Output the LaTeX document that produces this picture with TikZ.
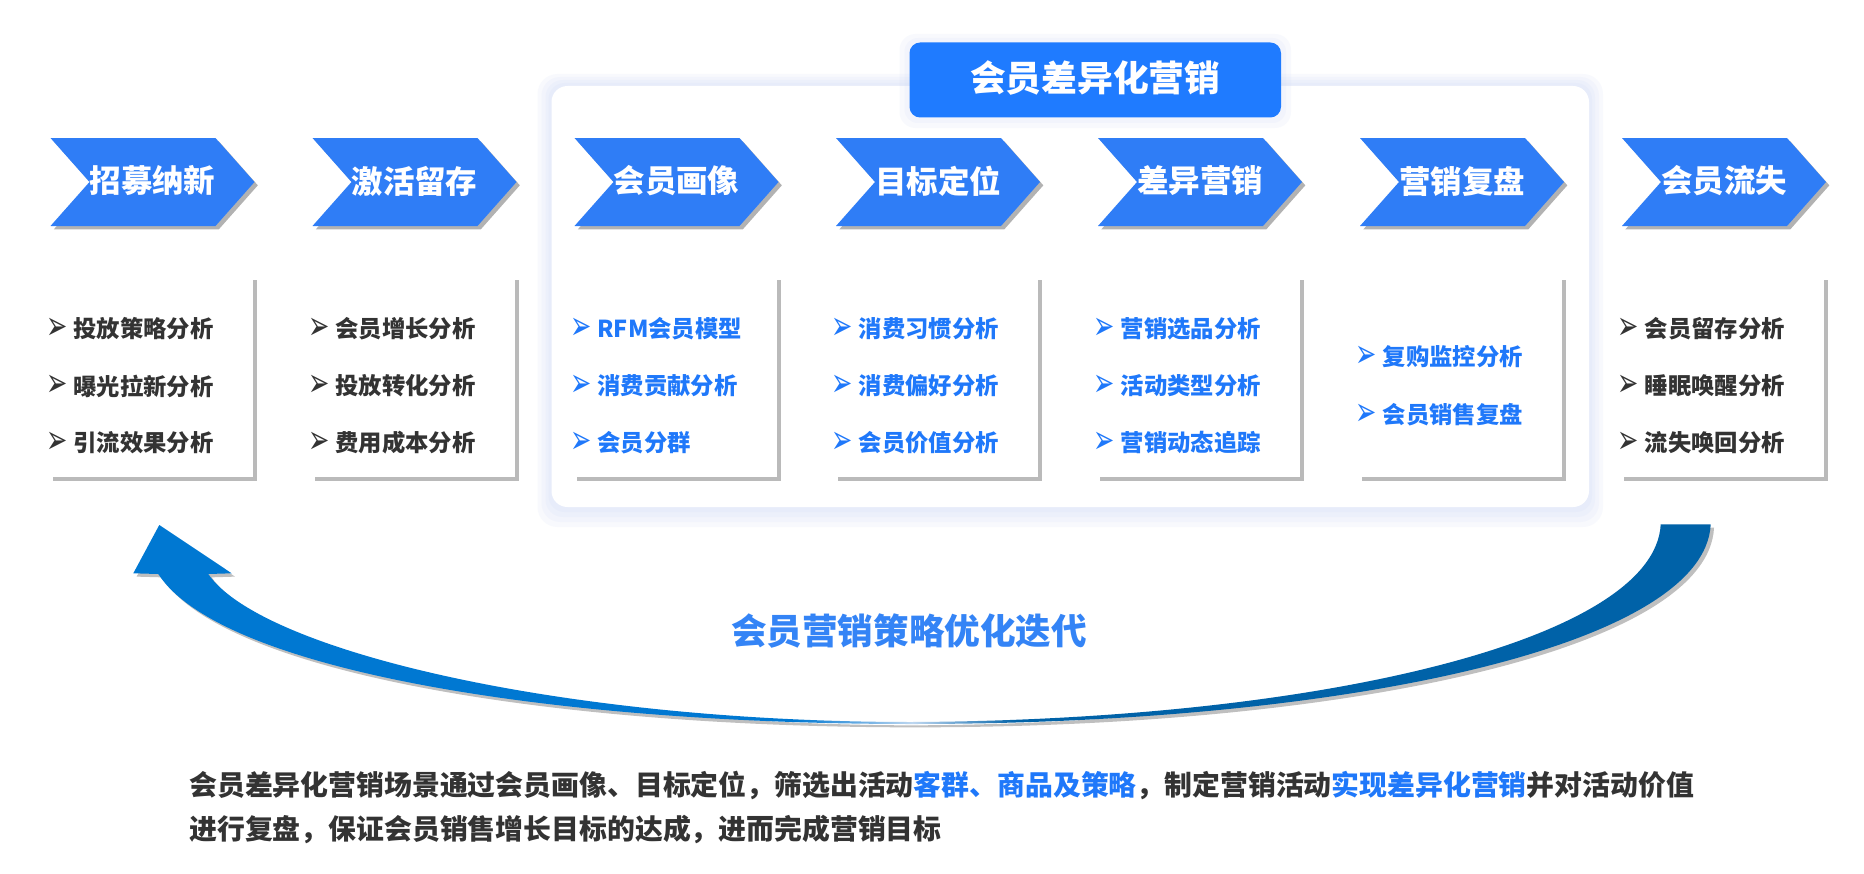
\documentclass[tikz,border=0pt]{standalone}
\usepackage{fontspec}
\usepackage{graphicx}
\setmainfont{Noto Sans CJK SC}
\newfontfamily\symfont{DejaVu Sans}
\usetikzlibrary{shadows}

\definecolor{chevblue}{RGB}{47,125,246}
\definecolor{titleblue}{RGB}{31,123,255}
\definecolor{itemblue}{RGB}{31,120,250}
\definecolor{itemgray}{RGB}{51,51,51}
\definecolor{loopblue}{RGB}{52,132,246}
\definecolor{arrowL}{RGB}{0,120,210}
\definecolor{arrowR}{RGB}{0,98,168}
\definecolor{arrowLight}{RGB}{190,215,240}
\definecolor{glow}{RGB}{200,212,245}

\pgfdeclarehorizontalshading{loopshade}{100bp}{color(0bp)=(arrowL); color(25bp)=(arrowL); color(46bp)=(arrowL); color(49.7bp)=(arrowLight); color(53bp)=(arrowR); color(75bp)=(arrowR); color(100bp)=(arrowR)}

\newcommand\itemhead{\makebox[17pt][l]{\hspace*{-3.5pt}\raisebox{-1.4pt}{\resizebox*{16pt}{16pt}{\symfont ➢}}}}

\tikzset{
  chevron/.style={fill=chevblue, drop shadow={shadow xshift=2.5pt, shadow yshift=-2.5pt, fill=black, opacity=0.3}},
  chevtext/.style={text=white, inner sep=0pt, font=\fontsize{23.6}{28}\selectfont\bfseries},
  listbox/.style={fill=white, drop shadow={shadow xshift=3pt, shadow yshift=-3pt, fill=black, opacity=0.27}},
  grayitem/.style={anchor=west, inner sep=0pt, text=itemgray, font=\fontsize{17.5}{20}\selectfont\bfseries},
  blueitem/.style={grayitem, text=itemblue},
  glowlayer/.style={fill=glow, opacity=0.12},
}

\begin{document}
\begin{tikzpicture}[x=0.75pt,y=0.75pt,yscale=-1,xscale=1]
\useasboundingbox (0,0) rectangle (1864,874);
\fill[white] (0,0) rectangle (1864,874);

%Shape: Rectangle (glow of the panel)
\fill[glowlayer, rounded corners=15pt] (537.5,74) rectangle (1603,527);
\fill[glowlayer, rounded corners=14pt] (541.5,77) rectangle (1599,522);
\fill[glowlayer, rounded corners=13pt] (545.5,80) rectangle (1595,517);
\fill[glowlayer, rounded corners=12pt] (548.5,83) rectangle (1592,512);
%Shape: Rectangle (panel)
\fill[white, rounded corners=12pt] (551.5,86) rectangle (1589,507);

%Shape: Rectangle (glow of the title)
\fill[glowlayer, rounded corners=12pt] (899.5,34) rectangle (1291,128);
\fill[glowlayer, rounded corners=10pt] (904.5,38) rectangle (1286,123);
%Shape: Rectangle (title)
\fill[titleblue, rounded corners=8pt] (909.5,42.5) rectangle (1281,117.5);
% Text Node
\node[chevtext, font=\fontsize{26.8}{30}\selectfont\bfseries] (title) at (1095.3,78) {会员差异化营销};

%Shape: Chevrons
\fill[chevron] (50.5,138) -- (215.5,138) -- (254.5,182) -- (215.5,226) -- (50.5,226) -- (89.5,182) -- cycle;
\fill[chevron] (312.5,138) -- (477.5,138) -- (516.5,182) -- (477.5,226) -- (312.5,226) -- (351.5,182) -- cycle;
\fill[chevron] (574.5,138) -- (739.5,138) -- (778.5,182) -- (739.5,226) -- (574.5,226) -- (613.5,182) -- cycle;
\fill[chevron] (836,138) -- (1001,138) -- (1040,182) -- (1001,226) -- (836,226) -- (875,182) -- cycle;
\fill[chevron] (1098,138) -- (1263,138) -- (1302,182) -- (1263,226) -- (1098,226) -- (1137,182) -- cycle;
\fill[chevron] (1360,138) -- (1525,138) -- (1564,182) -- (1525,226) -- (1360,226) -- (1399,182) -- cycle;
\fill[chevron] (1622,138) -- (1787,138) -- (1826,182) -- (1787,226) -- (1622,226) -- (1661,182) -- cycle;

% Text Node
\node[chevtext] (recruit) at (152.5,181) {招募纳新};
\node[chevtext] (activate) at (414.5,181) {激活留存};
\node[chevtext] (portrait) at (676.5,181) {会员画像};
\node[chevtext] (target) at (938,181) {目标定位};
\node[chevtext] (diffmkt) at (1200,181) {差异营销};
\node[chevtext] (review) at (1462,181) {营销复盘};
\node[chevtext] (churn) at (1724,181) {会员流失};

%Shape: Rectangle (lists)
\fill[listbox] (48.5,276) rectangle (252.5,477);
\fill[listbox] (310.5,276) rectangle (514.5,477);
\fill[listbox] (572.5,276) rectangle (776.5,477);
\fill[listbox] (834,276) rectangle (1038,477);
\fill[listbox] (1096,276) rectangle (1300,477);
\fill[listbox] (1358,276) rectangle (1562,477);
\fill[listbox] (1620,276) rectangle (1824,477);

% Text Node
\node[grayitem] (recruit1) at (50.5,329) {\itemhead 投放策略分析};
\node[grayitem] (recruit2) at (50.5,386) {\itemhead 曝光拉新分析};
\node[grayitem] (recruit3) at (50.5,443) {\itemhead 引流效果分析};
% Text Node
\node[grayitem] (activate1) at (312.5,329) {\itemhead 会员增长分析};
\node[grayitem] (activate2) at (312.5,386) {\itemhead 投放转化分析};
\node[grayitem] (activate3) at (312.5,443) {\itemhead 费用成本分析};
% Text Node
\node[blueitem] (portrait1) at (574.5,329) {\itemhead RFM会员模型};
\node[blueitem] (portrait2) at (574.5,386) {\itemhead 消费贡献分析};
\node[blueitem] (portrait3) at (574.5,443) {\itemhead 会员分群};
% Text Node
\node[blueitem] (target1) at (836,329) {\itemhead 消费习惯分析};
\node[blueitem] (target2) at (836,386) {\itemhead 消费偏好分析};
\node[blueitem] (target3) at (836,443) {\itemhead 会员价值分析};
% Text Node
\node[blueitem] (diffmkt1) at (1098,329) {\itemhead 营销选品分析};
\node[blueitem] (diffmkt2) at (1098,386) {\itemhead 活动类型分析};
\node[blueitem] (diffmkt3) at (1098,443) {\itemhead 营销动态追踪};
% Text Node
\node[blueitem] (review1) at (1360,357) {\itemhead 复购监控分析};
\node[blueitem] (review2) at (1360,415) {\itemhead 会员销售复盘};
% Text Node
\node[grayitem] (churn1) at (1622,329) {\itemhead 会员留存分析};
\node[grayitem] (churn2) at (1622,386) {\itemhead 睡眠唤醒分析};
\node[grayitem] (churn3) at (1622,443) {\itemhead 流失唤回分析};

%Shape: Curved Arrow
\shade[shading=loopshade, drop shadow={shadow xshift=2.5pt, shadow yshift=-2.5pt, fill=black, opacity=0.25}]
  (1710.7,524.3) .. controls (1705,645) and (1350,724) .. (912,724)
  .. controls (550,724) and (220,670) .. (158.3,574)
  -- (133.3,573.3) -- (159.3,525) -- (231.7,573.3) -- (208.3,574)
  .. controls (260,650) and (560,722) .. (912,722)
  .. controls (1320,720) and (1655,640) .. (1660.7,524.3) -- cycle;

% Text Node
\node[inner sep=0pt, text=loopblue, font=\fontsize{26.7}{30}\selectfont\bfseries] (loop) at (909,631) {会员营销策略优化迭代};

% Text Node
\node[grayitem, font=\fontsize{20.9}{26}\selectfont\bfseries] (summary1) at (189,785) {会员差异化营销场景通过会员画像、目标定位，筛选出活动\textcolor{itemblue}{客群、商品及策略}，制定营销活动\textcolor{itemblue}{实现差异化营销}并对活动价值};
\node[grayitem, font=\fontsize{20.9}{26}\selectfont\bfseries] (summary2) at (189,830) {进行复盘，保证会员销售增长目标的达成，进而完成营销目标};

\end{tikzpicture}
\end{document}
